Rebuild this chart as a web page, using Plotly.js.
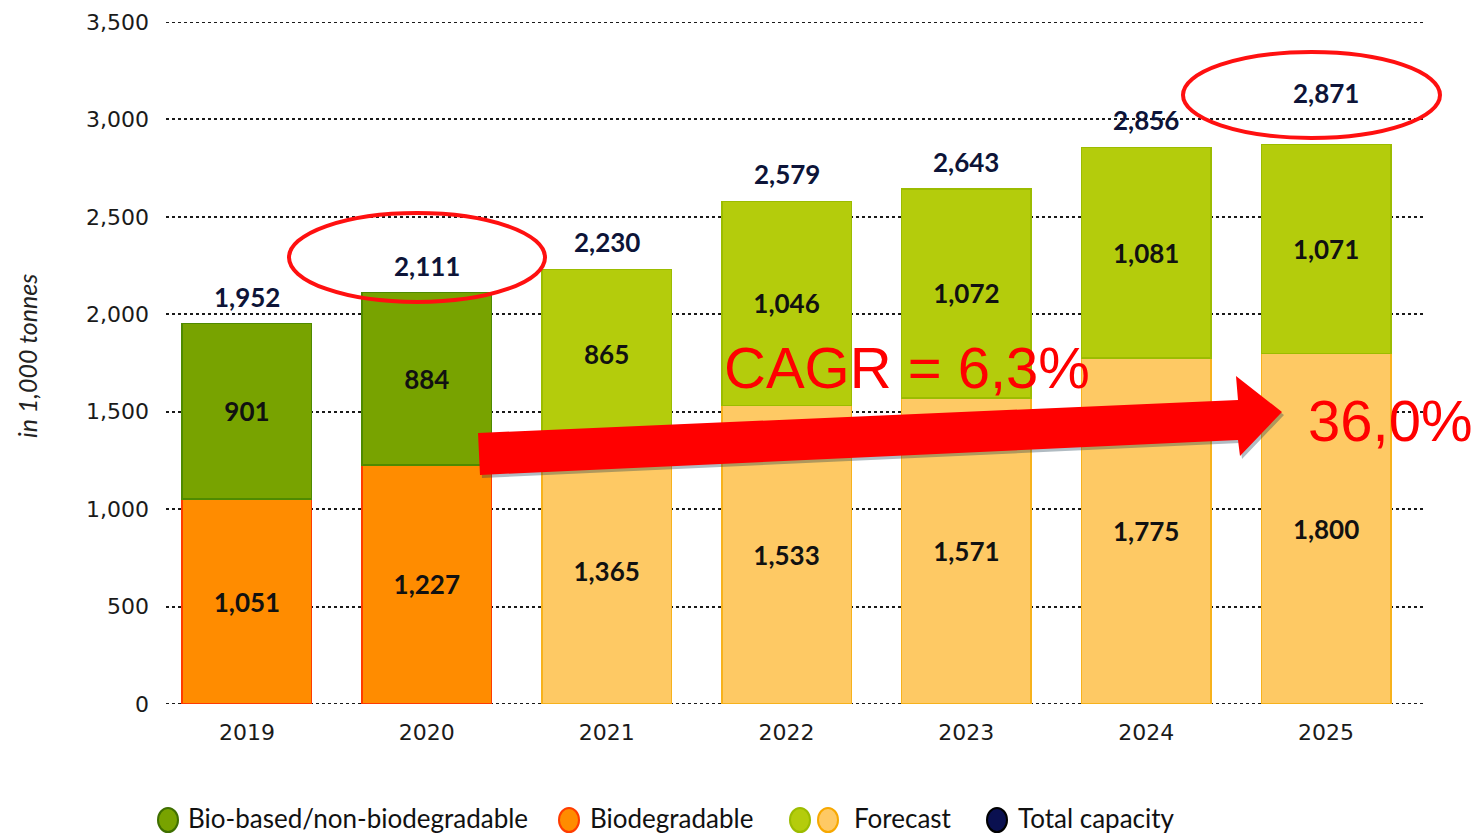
<!DOCTYPE html>
<html>
<head>
<meta charset="utf-8">
<script src="https://cdn.plot.ly/plotly-3.0.1.min.js"></script>
<style>html,body{margin:0;padding:0;background:#fff;}#chart{width:1480px;height:835px;}</style>
</head>
<body>
<div id="chart"></div>
<script>
// ---- data ----
const years = ["2019", "2020", "2021", "2022", "2023", "2024", "2025"];
const actualYears = ["2019", "2020"];
const forecastYears = ["2021", "2022", "2023", "2024", "2025"];
const biodegradableActual = [1051, 1227];
const biobasedActual = [901, 884];
const biodegradableForecast = [1365, 1533, 1571, 1775, 1800];
const biobasedForecast = [865, 1046, 1072, 1081, 1071];
const totals = [1952, 2111, 2230, 2579, 2643, 2856, 2871];
const yTicks = [0, 500, 1000, 1500, 2000, 2500, 3000, 3500];
const legendLabels = ["Bio-based/non-biodegradable", "Biodegradable", "Forecast", "Total capacity"];
const cagrText = "CAGR = 6,3%";
const growthText = "36,0%";

// ---- geometry helpers (pixel -> paper) ----
const L = 166, R = 1425, T = 22, B = 704;
const px = x => (x - L) / (R - L);
const py = y => (B - y) / (B - T);

const labelFont = {family: "Lato, 'Open Sans', sans-serif", size: 26, color: "#111"};
function barTrace(x, y, fill, line) {
  return {
    type: "bar", x: x, y: y, width: 0.72, showlegend: false,
    marker: {color: fill, line: {color: line, width: 1.5}},
    texttemplate: "<b>%{y:,}</b>", textposition: "inside", insidetextanchor: "middle",
    textangle: 0, constraintext: "none", insidetextfont: labelFont, hoverinfo: "skip"
  };
}

const traces = [
  barTrace(actualYears, biodegradableActual, "#ff8c00", "#ff3c00"),
  barTrace(forecastYears, biodegradableForecast, "#fec964", "#f7b21c"),
  barTrace(actualYears, biobasedActual, "#78a300", "#4f8a00"),
  barTrace(forecastYears, biobasedForecast, "#b4cc0c", "#9cbc00")
];

const annotations = [];
// totals (x given as category index)
totals.forEach((v, i) => {
  annotations.push({
    x: i, y: v, xref: "x", yref: "y", yanchor: "middle",
    yshift: i === totals.length - 1 ? 52 : 27, showarrow: false,
    text: "<b>" + v.toLocaleString("en-US") + "</b>",
    font: {family: "Lato, 'Open Sans', sans-serif", size: 26, color: "#0d1438"}
  });
});
// y axis title
annotations.push({
  xref: "paper", yref: "paper", x: px(27), y: py(356), textangle: -90, showarrow: false,
  text: "<i>in 1,000 tonnes</i>", xanchor: "center", yanchor: "middle",
  font: {family: "Lato, sans-serif", size: 25, color: "#222"}
});
// CAGR texts
annotations.push({
  xref: "paper", yref: "paper", x: px(722), y: py(367), xanchor: "left", yanchor: "middle",
  showarrow: false, text: cagrText,
  font: {family: "'Liberation Sans', Arial, sans-serif", size: 58, color: "#ff0000"}
});
annotations.push({
  xref: "paper", yref: "paper", x: px(1306), y: py(421), xanchor: "left", yanchor: "middle",
  showarrow: false, text: growthText,
  font: {family: "'Liberation Sans', Arial, sans-serif", size: 58, color: "#ff0000"}
});
// legend texts
const legendTextX = [186, 588, 852, 1016];
legendLabels.forEach((t, i) => {
  annotations.push({
    xref: "paper", yref: "paper", x: px(legendTextX[i]), y: py(818), xanchor: "left", yanchor: "middle",
    showarrow: false, text: t,
    font: {family: "Lato, sans-serif", size: 26, color: "#111"}
  });
});

const shapes = [];
// dotted lines at the axis ends (0 and 3500), which the grid skips at the plot edges
[yTicks[0], yTicks[yTicks.length - 1]].forEach(v => {
  shapes.push({type: "line", xref: "paper", yref: "y", x0: 0, x1: 1, y0: v, y1: v,
    line: {color: "#1a1a1a", width: 2, dash: "dot"}, layer: "below"});
});
// legend circles
const legendDots = [
  [168, "#78a300", "#3f6f00"], [569, "#ff8c00", "#ff3c00"],
  [800, "#b4cc0c", "#9cbc00"], [828, "#fec964", "#f7a800"], [997, "#0a1050", "#000"]
];
legendDots.forEach(d => {
  shapes.push({type: "circle", xref: "paper", yref: "paper",
    x0: px(d[0] - 10), x1: px(d[0] + 10), y0: py(832), y1: py(808),
    fillcolor: d[1], line: {color: d[2], width: 2}});
});
// red ellipses
shapes.push({type: "circle", xref: "paper", yref: "paper", x0: px(289), x1: px(545), y0: py(302), y1: py(213),
  line: {color: "#ff1010", width: 4}, layer: "above"});
shapes.push({type: "circle", xref: "paper", yref: "paper", x0: px(1183), x1: px(1440), y0: py(138), y1: py(52),
  line: {color: "#ff1010", width: 4}, layer: "above"});
// arrow
const arrowPts = [[478, 433], [1238, 400], [1236, 376], [1282, 412], [1240, 456], [1238, 440], [480, 475]];
function pathOf(pts, dx, dy) {
  return pts.map((p, i) => (i ? "L" : "M") + px(p[0] + dx).toFixed(5) + "," + py(p[1] + dy).toFixed(5)).join(" ") + " Z";
}
shapes.push({type: "path", xref: "paper", yref: "paper", path: pathOf(arrowPts, 2, 3),
  fillcolor: "rgba(30,60,80,0.35)", line: {width: 0}, layer: "above"});
shapes.push({type: "path", xref: "paper", yref: "paper", path: pathOf(arrowPts, 0, 0),
  fillcolor: "#ff0000", line: {width: 0}, layer: "above"});

const layout = {
  width: 1480, height: 835,
  margin: {l: L, r: 1480 - R, t: T, b: 835 - B},
  paper_bgcolor: "#fff", plot_bgcolor: "#fff",
  barmode: "stack", showlegend: false,
  xaxis: {
    type: "category", categoryorder: "array", categoryarray: years, range: [-0.45, 6.55],
    showgrid: false, zeroline: false, showline: false, ticks: "",
    ticklabelstandoff: 13,
    tickfont: {family: "'DejaVu Sans', sans-serif", size: 22, color: "#1a1a1a"}
  },
  yaxis: {
    range: [0, 3500], tickvals: yTicks, ticktext: yTicks.map(v => v.toLocaleString("en-US")),
    showgrid: true, gridcolor: "#1a1a1a", gridwidth: 2, griddash: "dot",
    zeroline: false, showline: false, ticks: "", ticklabelstandoff: 16,
    tickfont: {family: "'DejaVu Sans', sans-serif", size: 22, color: "#1a1a1a"}
  },
  annotations: annotations,
  shapes: shapes
};

Plotly.newPlot("chart", traces, layout, {displayModeBar: false, staticPlot: true});
</script>
</body>
</html>
